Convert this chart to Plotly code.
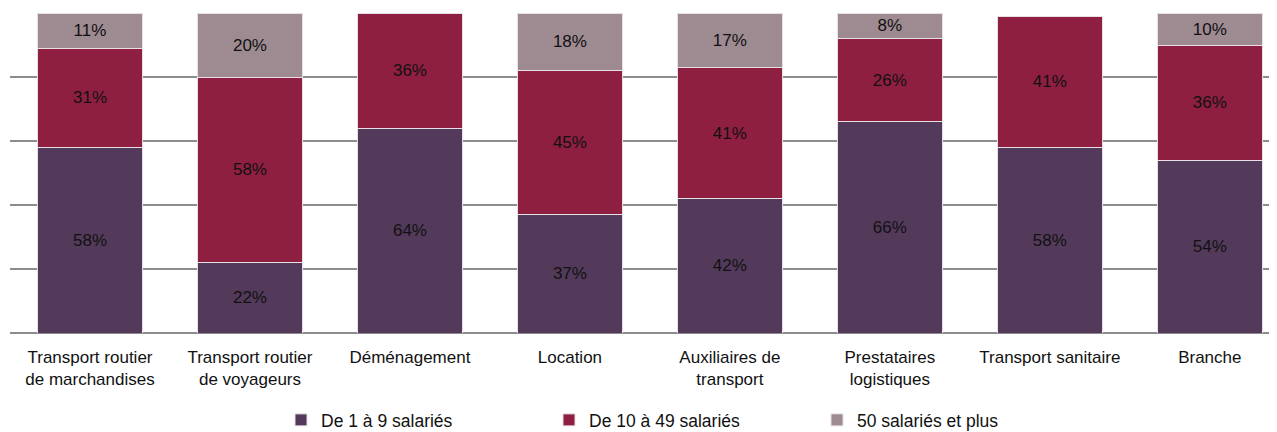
import plotly.graph_objects as go

categories = ["Transport routier<br>de marchandises", "Transport routier<br>de voyageurs",
              "Déménagement", "Location", "Auxiliaires de<br>transport",
              "Prestataires<br>logistiques", "Transport sanitaire", "Branche"]
small = [58, 22, 64, 37, 42, 66, 58, 54]
medium = [31, 58, 36, 45, 41, 26, 41, 36]
large = [11, 20, 0, 18, 17, 8, 0, 10]

series = [
    ("De 1 à 9 salariés", small, "#533A5B"),
    ("De 10 à 49 salariés", medium, "#8E1F40"),
    ("50 salariés et plus", large, "#9E8A91"),
]

FONT = "Liberation Sans, Arial, sans-serif"

fig = go.Figure()
for name, vals, color in series:
    fig.add_trace(go.Bar(
        x=categories, y=vals, name=name,
        marker=dict(color=color, line=dict(color="#E8E0E4", width=1)),
        text=[f"{v}%" if v > 0 else "" for v in vals],
        textposition="inside", insidetextanchor="middle",
        textfont=dict(family=FONT, size=17, color="#111111"),
        hoverinfo="skip",
    ))

fig.update_layout(
    barmode="stack", bargap=0.34,
    width=1269, height=430,
    margin=dict(l=2, r=0, t=5, b=105),
    plot_bgcolor="white", paper_bgcolor="white",
    font=dict(family=FONT, size=17, color="#111111"),
    showlegend=True,
    legend=dict(orientation="h", x=0.2139, xanchor="left",
                yref="container", y=0.0, yanchor="bottom",
                entrywidth=223, entrywidthmode="pixels",
                font=dict(size=17.5, color="#111111"), traceorder="normal"),
    uniformtext=dict(mode=False),
)
fig.update_xaxes(range=[-0.5, 7.42], showline=False, ticks="", automargin=False,
                 ticklabelstandoff=12, tickfont=dict(size=17, color="#111111"))
fig.update_yaxes(range=[0, 100], dtick=20, showticklabels=False, showgrid=True, automargin=False,
                 gridcolor="#8C8C8C", gridwidth=1.5, zeroline=True, zerolinecolor="#8C8C8C",
                 zerolinewidth=1.5, showline=False)

fig.write_html("out.html")
